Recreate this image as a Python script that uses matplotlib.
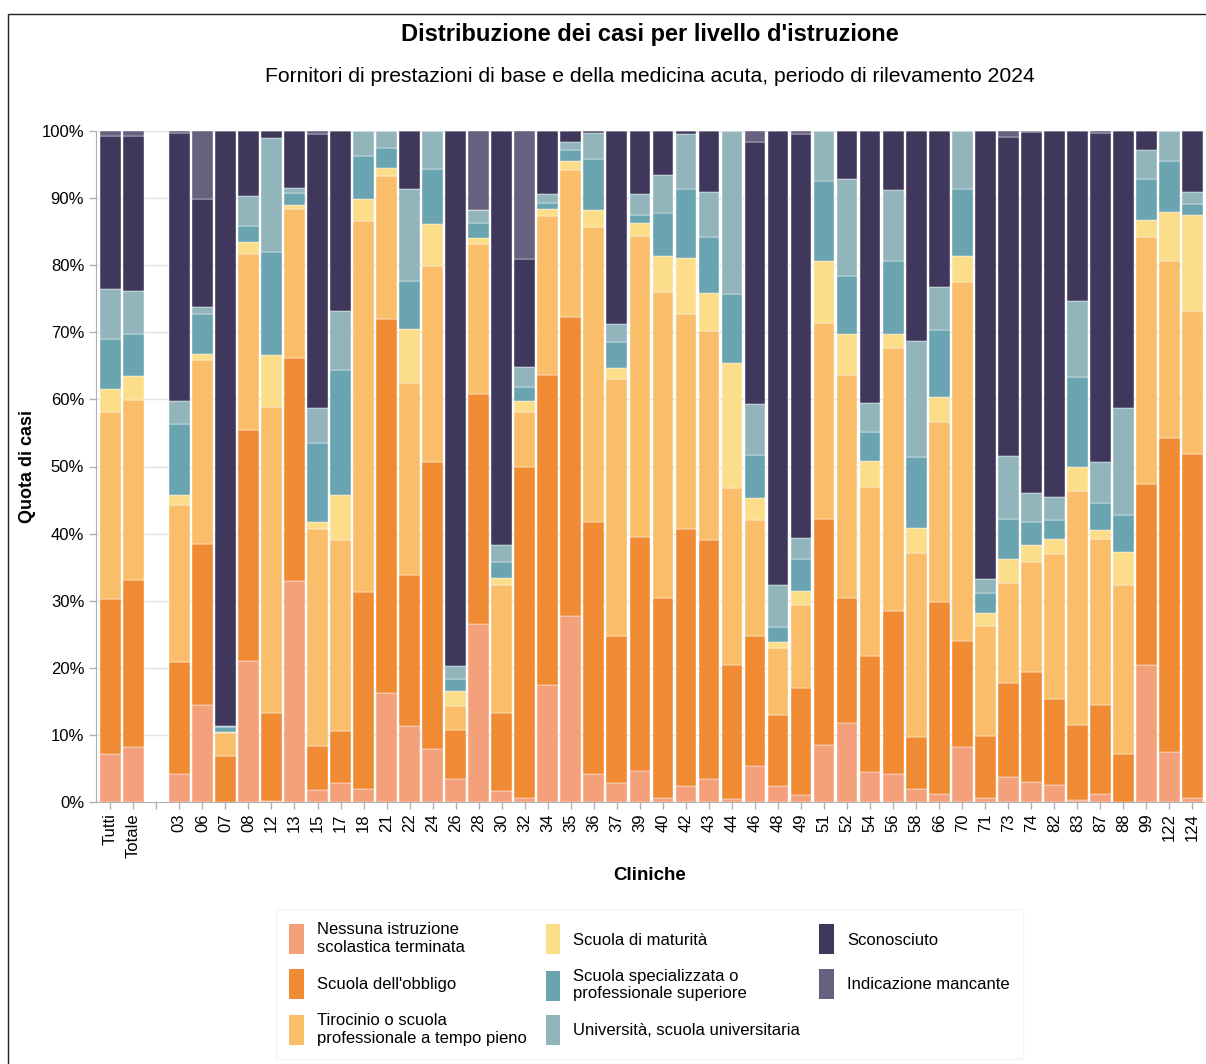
import matplotlib
matplotlib.use("Agg")
import matplotlib.pyplot as plt
from matplotlib.patches import Rectangle, Patch
import numpy as np

plt.rcParams['font.family'] = ['Liberation Sans', 'DejaVu Sans']

categories = ["Tutti", "Totale", "", "03", "06", "07", "08", "12", "13", "15", "17", "18", "21", "22", "24",
              "26", "28", "30", "32", "34", "35", "36", "37", "39", "40", "42", "43", "44", "46", "48",
              "49", "51", "52", "54", "56", "58", "66", "70", "71", "73", "74", "82", "83", "87", "88",
              "99", "122", "124"]

series_names = ["Nessuna istruzione\nscolastica terminata", "Scuola dell'obbligo",
                "Tirocinio o scuola\nprofessionale a tempo pieno", "Scuola di maturità",
                "Scuola specializzata o\nprofessionale superiore", "Università, scuola universitaria",
                "Sconosciuto", "Indicazione mancante"]

colors = ["#F4A07A", "#F08A33", "#FABE6A", "#FBDD8A", "#6AA4B0", "#92B5BC", "#3F385C", "#67607E"]

# cumulative tops (%) per category: nessuna, obbligo, tirocinio, maturita, spec, uni, sconosciuto, (missing -> 100)
cum_tops = {
    "Tutti":  [7.1, 30.3, 58.1, 61.5, 69.0, 76.4, 99.2],
    "Totale": [8.2, 33.1, 59.9, 63.5, 69.8, 76.1, 99.3],
    "":       None,
    "03": [4.1, 20.8, 44.2, 45.8, 56.4, 59.7, 99.7],
    "06": [14.4, 38.5, 65.8, 66.7, 72.7, 73.7, 89.9],
    "07": [0.0, 6.8, 10.3, 10.5, 11.2, 11.4, 100.0],
    "08": [21.0, 55.4, 81.7, 83.5, 85.8, 90.3, 100.0],
    "12": [0.2, 13.2, 58.9, 66.6, 81.9, 98.9, 100.0],
    "13": [32.9, 66.2, 88.4, 89.0, 90.7, 91.5, 100.0],
    "15": [1.8, 8.3, 40.7, 41.7, 53.5, 58.7, 99.6],
    "17": [2.8, 10.6, 39.0, 45.7, 64.4, 73.1, 100.0],
    "18": [2.0, 31.3, 86.6, 89.9, 96.3, 100.0, 100.0],
    "21": [16.2, 72.0, 93.3, 94.5, 97.5, 100.0, 100.0],
    "22": [11.4, 33.9, 62.5, 70.5, 77.7, 91.3, 100.0],
    "24": [7.9, 50.7, 79.9, 86.1, 94.3, 100.0, 100.0],
    "26": [3.4, 10.8, 14.3, 16.6, 18.3, 20.2, 100.0],
    "28": [26.5, 60.8, 83.2, 84.1, 86.3, 88.3, 88.3],
    "30": [1.7, 13.3, 32.3, 33.4, 35.7, 38.3, 100.0],
    "32": [0.6, 50.0, 58.1, 59.7, 61.8, 64.9, 80.9],
    "34": [17.5, 63.7, 87.3, 88.4, 89.2, 90.6, 100.0],
    "35": [27.7, 72.3, 94.2, 95.5, 97.1, 98.3, 100.0],
    "36": [4.1, 41.8, 85.7, 88.2, 95.9, 99.7, 100.0],
    "37": [2.8, 24.8, 63.1, 64.7, 68.6, 71.2, 100.0],
    "39": [4.6, 39.5, 84.3, 86.3, 87.5, 90.6, 100.0],
    "40": [0.6, 30.4, 76.0, 81.3, 87.8, 93.4, 100.0],
    "42": [2.4, 40.7, 72.8, 81.1, 91.3, 99.6, 100.0],
    "43": [3.4, 39.0, 70.2, 75.9, 84.2, 90.9, 100.0],
    "44": [0.5, 20.4, 46.8, 65.4, 75.7, 100.0, 100.0],
    "46": [5.3, 24.8, 42.0, 45.3, 51.7, 59.3, 98.3],
    "48": [2.4, 12.9, 22.9, 23.9, 26.1, 32.4, 100.0],
    "49": [1.1, 17.0, 29.4, 31.5, 36.2, 39.3, 99.5],
    "51": [8.5, 42.2, 71.4, 80.6, 92.5, 100.0, 100.0],
    "52": [11.8, 30.4, 63.7, 69.8, 78.4, 92.8, 100.0],
    "54": [4.5, 21.7, 47.0, 50.8, 55.1, 59.5, 100.0],
    "56": [4.2, 28.4, 67.7, 69.8, 80.7, 91.2, 100.0],
    "58": [1.9, 9.7, 37.1, 40.9, 51.4, 68.7, 100.0],
    "66": [1.2, 29.8, 56.6, 60.4, 70.3, 76.7, 100.0],
    "70": [8.2, 24.0, 77.5, 81.3, 91.3, 100.0, 100.0],
    "71": [0.6, 9.9, 26.2, 28.1, 31.1, 33.2, 100.0],
    "73": [3.8, 17.7, 32.7, 36.2, 42.2, 51.6, 99.1],
    "74": [3.0, 19.4, 35.8, 38.3, 41.7, 46.0, 99.9],
    "82": [2.6, 15.3, 37.0, 39.2, 42.0, 45.4, 100.0],
    "83": [0.3, 11.5, 46.3, 49.9, 63.4, 74.6, 100.0],
    "87": [1.2, 14.5, 39.2, 40.6, 44.6, 50.7, 99.7],
    "88": [0.0, 7.1, 32.4, 37.3, 42.8, 58.7, 100.0],
    "99": [20.4, 47.4, 84.2, 86.7, 92.8, 97.1, 100.0],
    "122": [7.4, 54.3, 80.7, 88.0, 95.5, 100.0, 100.0],
    "124": [0.6, 51.8, 73.1, 87.5, 89.1, 90.9, 100.0],
}

# convert to segment shares
n_cat = len(categories)
shares = np.zeros((len(series_names), n_cat))
for j, c in enumerate(categories):
    t = cum_tops[c]
    if t is None:
        continue
    full = [0.0] + list(t) + [100.0]
    shares[:, j] = np.diff(full)

fig = plt.figure(figsize=(12.06, 10.64), dpi=100)
ax = fig.add_axes([96 / 1206, 1 - 802 / 1064, (1204 - 96) / 1206, (802 - 131) / 1064])

x = np.arange(n_cat)
bottom = np.zeros(n_cat)
for i, name in enumerate(series_names):
    ax.bar(x, shares[i], bottom=bottom, width=0.9, color=colors[i], label=name,
           edgecolor='white', linewidth=0.3, zorder=3)
    bottom += shares[i]

ax.set_xlim(-0.62, n_cat - 0.5)
ax.set_ylim(0, 100)
ax.set_yticks(np.arange(0, 101, 10))
ax.set_yticklabels([f"{v}%" for v in range(0, 101, 10)], fontsize=12)
ax.set_xticks(x)
ax.set_xticklabels(categories, rotation=90, fontsize=12)
ax.grid(axis='y', color='#e3e3e3', linewidth=1, zorder=0)
ax.set_axisbelow(True)
for s in ['top', 'right']:
    ax.spines[s].set_visible(False)
for s in ['left', 'bottom']:
    ax.spines[s].set_color('#b0b0b0')
ax.tick_params(axis='both', color='#b0b0b0', length=5, width=1)
ax.tick_params(axis='x', pad=3)

ax.set_ylabel("Quota di casi", fontsize=13, fontweight='bold', labelpad=4)
ax.set_xlabel("Cliniche", fontsize=13.5, fontweight='bold', labelpad=7)

fig.text(650 / 1206, 1 - 35 / 1064, "Distribuzione dei casi per livello d'istruzione",
         ha='center', va='center', fontsize=17, fontweight='bold')
fig.text(650 / 1206, 1 - 76 / 1064,
         "Fornitori di prestazioni di base e della medicina acuta, periodo di rilevamento 2024",
         ha='center', va='center', fontsize=15.2)

handles = [Patch(facecolor=colors[i], edgecolor='none') for i in range(len(series_names))]
leg = fig.legend(handles, series_names, ncol=3, loc='upper left',
                 bbox_to_anchor=(276 / 1206, 1 - 909 / 1064), frameon=True, borderaxespad=0,
                 fontsize=12, handlelength=0.85, handleheight=2.4, labelspacing=0.85,
                 columnspacing=1.15, handletextpad=0.8, borderpad=0.8, fancybox=False)
leg.get_frame().set_edgecolor('#f2f2f2')
leg.get_frame().set_linewidth(1)

# figure frame
fig.patches.append(Rectangle((8 / 1206, -0.01), 1.2, 1 - 14 / 1064 + 0.01,
                             transform=fig.transFigure, fill=False, edgecolor='#222222',
                             linewidth=1))

fig.savefig("out.png", dpi=100)
